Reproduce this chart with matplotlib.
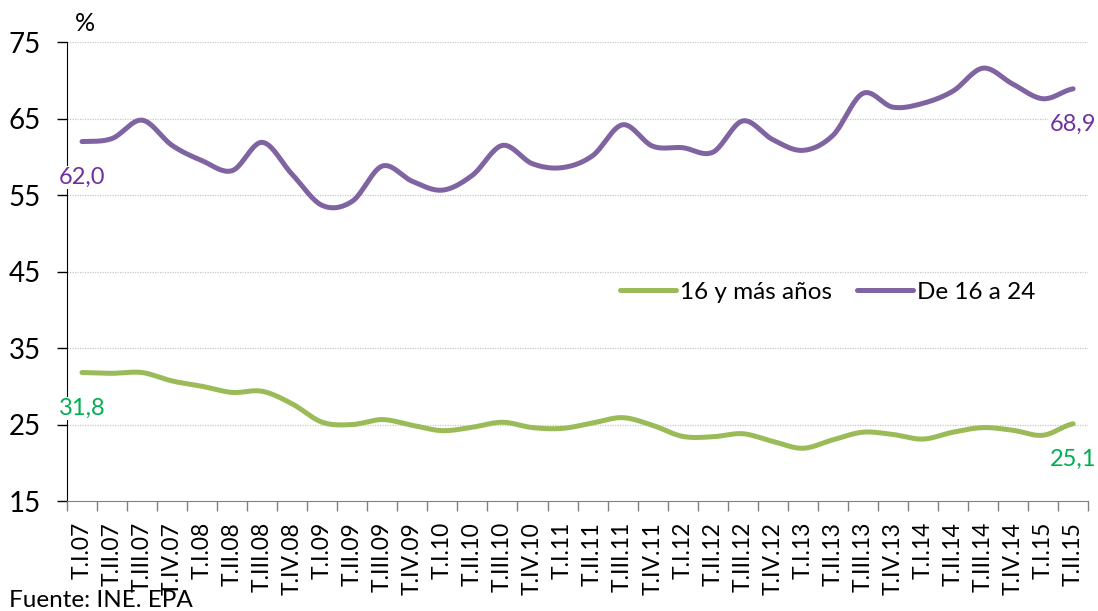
import matplotlib
matplotlib.use("Agg")
import matplotlib.pyplot as plt
import numpy as np

plt.rcParams['font.family'] = ['Lato', 'DejaVu Sans']

# quarters T.I.07 .. T.II.15
quarters = []
for yy in range(7, 16):
    for q in ["I", "II", "III", "IV"]:
        quarters.append("T.%s.%02d" % (q, yy))
quarters = quarters[:34]

# tasa de actividad (%)
total = [31.8, 31.7, 31.8, 30.7, 30.0, 29.2, 29.35, 27.7, 25.3, 25.0,
         25.65, 24.9, 24.2, 24.65, 25.3, 24.6, 24.5, 25.2, 25.9, 24.9,
         23.45, 23.4, 23.8, 22.8, 21.9, 23.0, 24.0, 23.7, 23.1, 24.0,
         24.6, 24.25, 23.6, 25.1]
jovenes = [62.0, 62.4, 64.8, 61.5, 59.5, 58.2, 61.9, 57.7, 53.65, 54.2,
           58.8, 56.8, 55.65, 57.6, 61.5, 59.1, 58.6, 60.15, 64.2, 61.4,
           61.2, 60.6, 64.7, 62.25, 60.85, 62.8, 68.3, 66.5, 67.0, 68.6,
           71.6, 69.5, 67.6, 68.9]

yticks = [15, 25, 35, 45, 55, 65, 75]

GREEN = "#9BBB59"
PURPLE = "#8064A2"


def smooth(y, n=20):
    # Excel-style smoothed line (uniform Catmull-Rom)
    y = np.asarray(y, dtype=float)
    x = np.arange(len(y), dtype=float)
    p = np.concatenate([[y[0]], y, [y[-1]]])
    xs, ys = [], []
    t = np.linspace(0, 1, n, endpoint=False)
    for i in range(len(y) - 1):
        p0, p1, p2, p3 = p[i], p[i + 1], p[i + 2], p[i + 3]
        seg = 0.5 * ((2 * p1) + (-p0 + p2) * t
                     + (2 * p0 - 5 * p1 + 4 * p2 - p3) * t ** 2
                     + (-p0 + 3 * p1 - 3 * p2 + p3) * t ** 3)
        xs.append(x[i] + t)
        ys.append(seg)
    xs.append([x[-1]])
    ys.append([y[-1]])
    return np.concatenate(xs), np.concatenate(ys)


fig = plt.figure(figsize=(10.98, 6.11), dpi=100)
ax = fig.add_axes([0.061, 0.180, 0.930, 0.751])

for v in yticks[1:]:
    ax.axhline(v, color="#C8C8C8", lw=0.9, ls=(0, (1, 1)), zorder=1)

xs, ys = smooth(total)
ax.plot(xs, ys, color=GREEN, lw=3.6, solid_capstyle="round", label="16 y más años", zorder=3)
xs, ys = smooth(jovenes)
ax.plot(xs, ys, color=PURPLE, lw=3.6, solid_capstyle="round", label="De 16 a 24", zorder=3)

ax.set_xlim(-0.5, len(quarters) - 0.5)
ax.set_ylim(15, 75)
ax.set_yticks(yticks)
ax.tick_params(axis="y", labelsize=20, length=7, width=1, direction="out", pad=12)

ax.set_xticks(np.arange(len(quarters)))
ax.set_xticklabels(quarters, rotation=90, fontsize=16.5)
ax.set_xticks(np.arange(len(quarters) + 1) - 0.5, minor=True)
ax.tick_params(axis="x", which="major", length=0, pad=15)
ax.tick_params(axis="x", which="minor", length=7, width=1, color="#808080")

for s in ["top", "right"]:
    ax.spines[s].set_visible(False)
ax.spines["left"].set_color("black")
ax.spines["bottom"].set_color("#808080")

# data labels at first and last points
box = dict(facecolor="white", edgecolor="none", pad=1)
n = len(quarters) - 1
labels = [(0, jovenes[0], "#7030A0"), (0, total[0], "#00B050"),
          (n, jovenes[n], "#7030A0"), (n, total[n], "#00B050")]
for xi, yv, col in labels:
    ax.annotate(("%.1f" % yv).replace(".", ","), (xi, yv), xytext=(0, -36),
                textcoords="offset pixels", ha="center", va="center", fontsize=17,
                color=col, bbox=box, zorder=5, annotation_clip=False)

ax.legend(loc="center", bbox_to_anchor=(0.745, 0.455), ncol=2, frameon=False,
          fontsize=17.5, handlelength=2.3, handletextpad=0.2, columnspacing=1.0)

fig.text(0.068, 0.962, "%", fontsize=18, ha="left", va="center")
fig.text(0.008, 0.0, "Fuente: INE. EPA", fontsize=17.5, ha="left", va="bottom")

fig.savefig("out.png", dpi=100)
